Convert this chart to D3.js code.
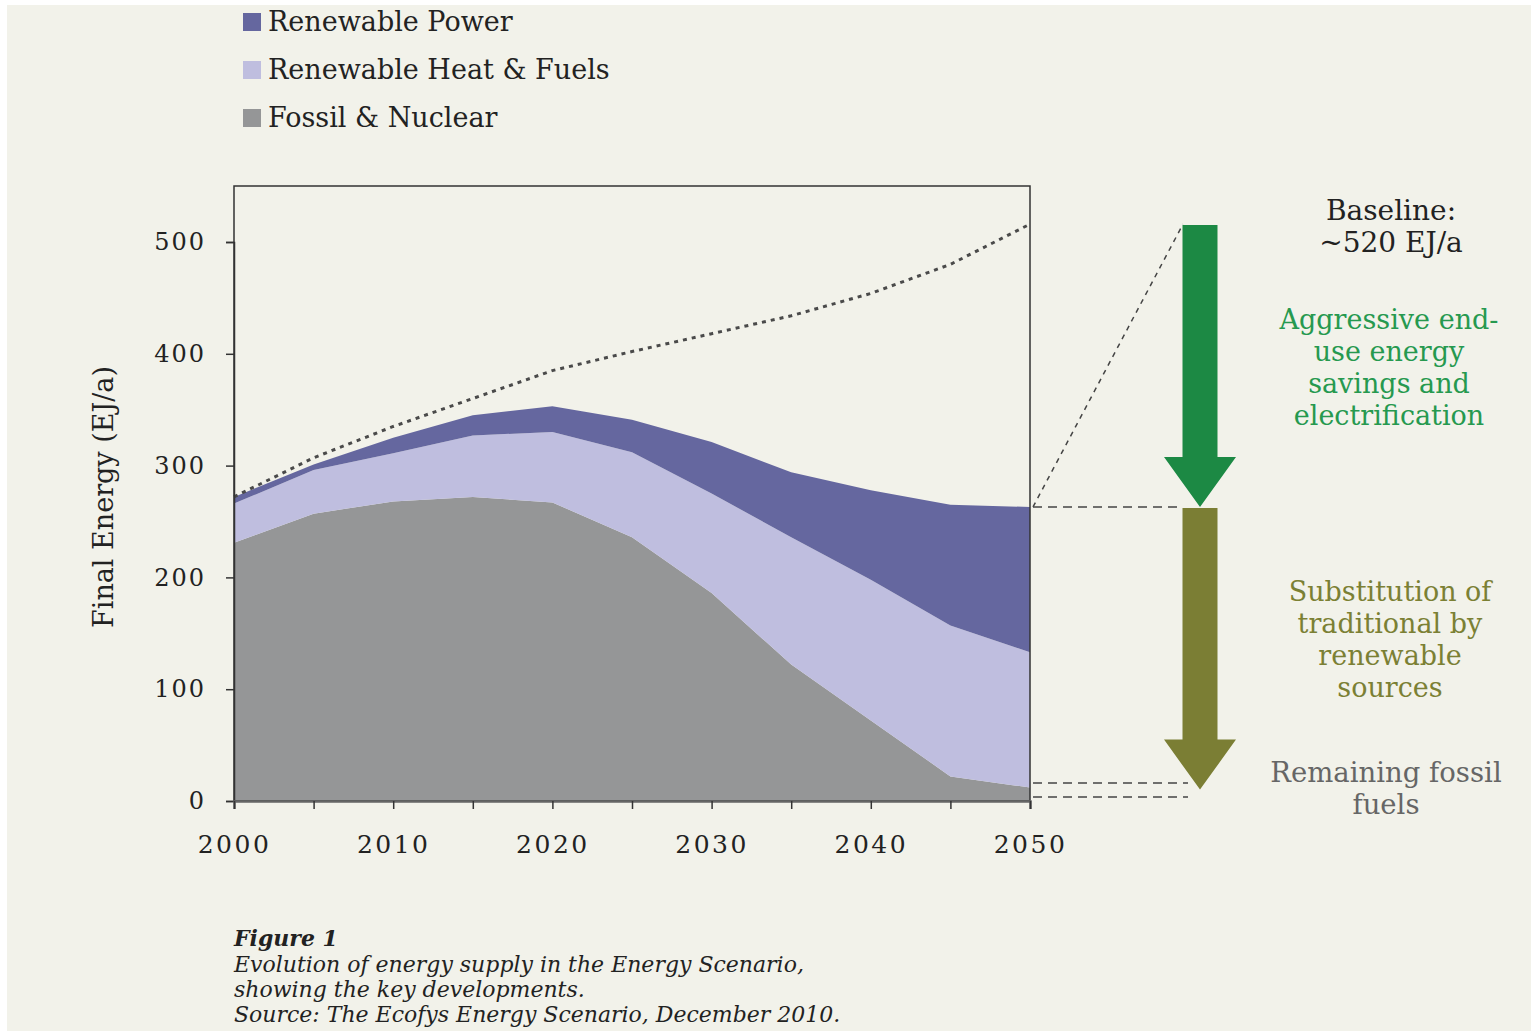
<!DOCTYPE html>
<html>
<head>
<meta charset="utf-8">
<script src="https://cdn.jsdelivr.net/npm/d3@7"></script>
<style>
  body { margin: 0; background: #ffffff; }
  text { font-family: "DejaVu Serif", "Liberation Serif", serif; }
</style>
</head>
<body>
<div id="chart"></div>
<script>
// Data (EJ/a), 5-year steps
var years = [2000, 2005, 2010, 2015, 2020, 2025, 2030, 2035, 2040, 2045, 2050];
var fossilNuclear = [231, 257, 268, 272, 267, 236, 186, 122, 72, 22, 12];
var renewableHeat = [35, 39, 43, 55, 63, 76, 89, 114, 126, 135, 121];
var renewablePower = [6, 5, 14, 18, 23, 29, 46, 58, 80, 108, 130];
var baseline = [272, 307, 335, 360, 385, 402, 418, 434, 454, 480, 516];

var seriesNames = ["Renewable Power", "Renewable Heat & Fuels", "Fossil & Nuclear"];
var seriesColors = ["#65679f", "#bfbedf", "#959697"];
var yTicks = [0, 100, 200, 300, 400, 500];
var xTickLabels = [2000, 2010, 2020, 2030, 2040, 2050];

var svgWidth = 1538;
var svgHeight = 1033;

var svg = d3.select("#chart")
    .append("svg")
    .attr("width", svgWidth)
    .attr("height", svgHeight);

// paper background
svg.append("rect")
    .attr("x", 7).attr("y", 5)
    .attr("width", 1524).attr("height", 1026)
    .attr("fill", "#f2f2ea");

var plot = { left: 234, right: 1030, top: 186, bottom: 801 };

var xScale = d3.scaleLinear()
    .domain([2000, 2050])
    .range([plot.left, plot.right]);

var yScale = d3.scaleLinear()
    .domain([0, 500])
    .range([plot.bottom, 242]);

// build table for stacking
var table = years.map(function(yr, i) {
    return {
        year: yr,
        fossil: fossilNuclear[i],
        heat: renewableHeat[i],
        power: renewablePower[i]
    };
});

var stack = d3.stack().keys(["fossil", "heat", "power"]);
var layers = stack(table);
var layerColors = { fossil: seriesColors[2], heat: seriesColors[1], power: seriesColors[0] };

var area = d3.area()
    .x(d => xScale(d.data.year))
    .y0(d => yScale(d[0]))
    .y1(d => yScale(d[1]));

svg.append("g").selectAll("path")
    .data(layers)
    .enter()
    .append("path")
    .attr("d", area)
    .attr("fill", d => layerColors[d.key]);

// baseline (dotted)
var line = d3.line()
    .x((d, i) => xScale(years[i]))
    .y(d => yScale(d));

svg.append("path")
    .datum(baseline)
    .attr("d", line)
    .attr("fill", "none")
    .attr("stroke", "#4a4a4a")
    .attr("stroke-width", 3)
    .attr("stroke-dasharray", "4,5");

// frame
svg.append("rect")
    .attr("x", plot.left).attr("y", plot.top)
    .attr("width", plot.right - plot.left)
    .attr("height", plot.bottom - plot.top)
    .attr("fill", "none")
    .attr("stroke", "#333")
    .attr("stroke-width", 1.5);

// axes
var leftAxis = d3.axisLeft(yScale)
    .tickValues(yTicks)
    .tickSize(8)
    .tickPadding(20);

var yAxisG = svg.append("g")
    .attr("transform", `translate(${plot.left}, 0)`)
    .call(leftAxis);
yAxisG.select(".domain").attr("stroke", "#333").attr("stroke-width", 1.5);
yAxisG.selectAll(".tick line").attr("stroke", "#333").attr("stroke-width", 1.5);
yAxisG.selectAll("text")
    .attr("font-family", "DejaVu Serif")
    .attr("font-size", 24)
    .attr("letter-spacing", 2)
    .attr("fill", "#222");

var bottomAxis = d3.axisBottom(xScale)
    .tickValues(years)
    .tickSize(8)
    .tickFormat(d => xTickLabels.indexOf(d) >= 0 ? d : "")
    .tickPadding(26);

var xAxisG = svg.append("g")
    .attr("transform", `translate(0, ${plot.bottom})`)
    .call(bottomAxis);
xAxisG.select(".domain").attr("stroke", "#666").attr("stroke-width", 2.5);
xAxisG.selectAll(".tick line").attr("stroke", "#333").attr("stroke-width", 1.5);
xAxisG.selectAll("text")
    .attr("font-family", "DejaVu Serif")
    .attr("font-size", 25)
    .attr("letter-spacing", 2.5)
    .attr("fill", "#222");

// y axis label
svg.append("text")
    .attr("transform", "translate(113, 497) rotate(-90)")
    .attr("text-anchor", "middle")
    .attr("font-size", 27)
    .attr("fill", "#222")
    .text("Final Energy (EJ/a)");

// legend
var legend = svg.append("g").selectAll("g")
    .data(seriesNames)
    .enter()
    .append("g")
    .attr("transform", (d, i) => `translate(243, ${13 + i * 48})`);

legend.append("rect")
    .attr("width", 18).attr("height", 18)
    .attr("fill", (d, i) => seriesColors[i]);

legend.append("text")
    .attr("x", 25).attr("y", 18)
    .attr("font-size", 27)
    .attr("fill", "#222")
    .text(d => d);

// right-hand annotations
var xEnd = xScale(2050);
var arrowX = 1200;
var topVal = baseline[baseline.length - 1];
var totalEnd = fossilNuclear[10] + renewableHeat[10] + renewablePower[10];
var fossilEnd = fossilNuclear[10];

svg.append("line")
    .attr("x1", xEnd + 3).attr("y1", yScale(totalEnd))
    .attr("x2", arrowX - 17).attr("y2", yScale(topVal))
    .attr("stroke", "#444").attr("stroke-width", 1.5)
    .attr("stroke-dasharray", "5,5");

svg.append("line")
    .attr("x1", xEnd + 3).attr("y1", yScale(totalEnd))
    .attr("x2", arrowX - 17).attr("y2", yScale(totalEnd))
    .attr("stroke", "#444").attr("stroke-width", 1.5)
    .attr("stroke-dasharray", "9,6");

[fossilEnd + 4, 3.5].forEach(function(v) {
    svg.append("line")
        .attr("x1", xEnd + 3).attr("y1", yScale(v))
        .attr("x2", arrowX - 12).attr("y2", yScale(v))
        .attr("stroke", "#444").attr("stroke-width", 1.5)
        .attr("stroke-dasharray", "9,6");
});

function arrow(y0, y1, color) {
    var shaft = 17.5, head = 36, headH = 50;
    var pts = [
        [arrowX - shaft, y0], [arrowX + shaft, y0],
        [arrowX + shaft, y1 - headH], [arrowX + head, y1 - headH],
        [arrowX, y1], [arrowX - head, y1 - headH],
        [arrowX - shaft, y1 - headH]
    ];
    svg.append("path")
        .attr("d", d3.line()(pts) + "Z")
        .attr("fill", color);
}
arrow(yScale(topVal) + 1, yScale(totalEnd), "#1c8944");
arrow(yScale(totalEnd) + 1, yScale(fossilEnd) + 2, "#7b7e34");

function block(lines, cx, y, color, size, gap) {
    var t = svg.append("text")
        .attr("text-anchor", "middle")
        .attr("font-size", size)
        .attr("fill", color);
    lines.forEach(function(s, i) {
        t.append("tspan")
            .attr("x", cx)
            .attr("y", y + i * gap)
            .text(s);
    });
}

block(["Baseline:", "~520 EJ/a"], 1391, 220, "#222", 28, 32);
block(["Aggressive end-", "use energy", "savings and", "electrification"], 1389, 329, "#26994f", 27, 32);
block(["Substitution of", "traditional  by", "renewable", "sources"], 1390, 601, "#7b8034", 27, 32);
block(["Remaining fossil", "fuels"], 1386, 782, "#666", 27.5, 32);

// caption
svg.append("text")
    .attr("x", 234).attr("y", 946)
    .attr("font-size", 22)
    .attr("font-weight", "bold")
    .attr("font-style", "italic")
    .attr("fill", "#222")
    .text("Figure 1");

var caption = [
    "Evolution of energy supply in the Energy Scenario,",
    "showing the key developments.",
    "Source: The Ecofys Energy Scenario, December 2010."
];
svg.append("g").selectAll("text")
    .data(caption)
    .enter()
    .append("text")
    .attr("x", 234)
    .attr("y", (d, i) => 972 + i * 25)
    .attr("font-size", 22)
    .attr("font-style", "italic")
    .attr("fill", "#222")
    .text(d => d);
</script>
</body>
</html>
